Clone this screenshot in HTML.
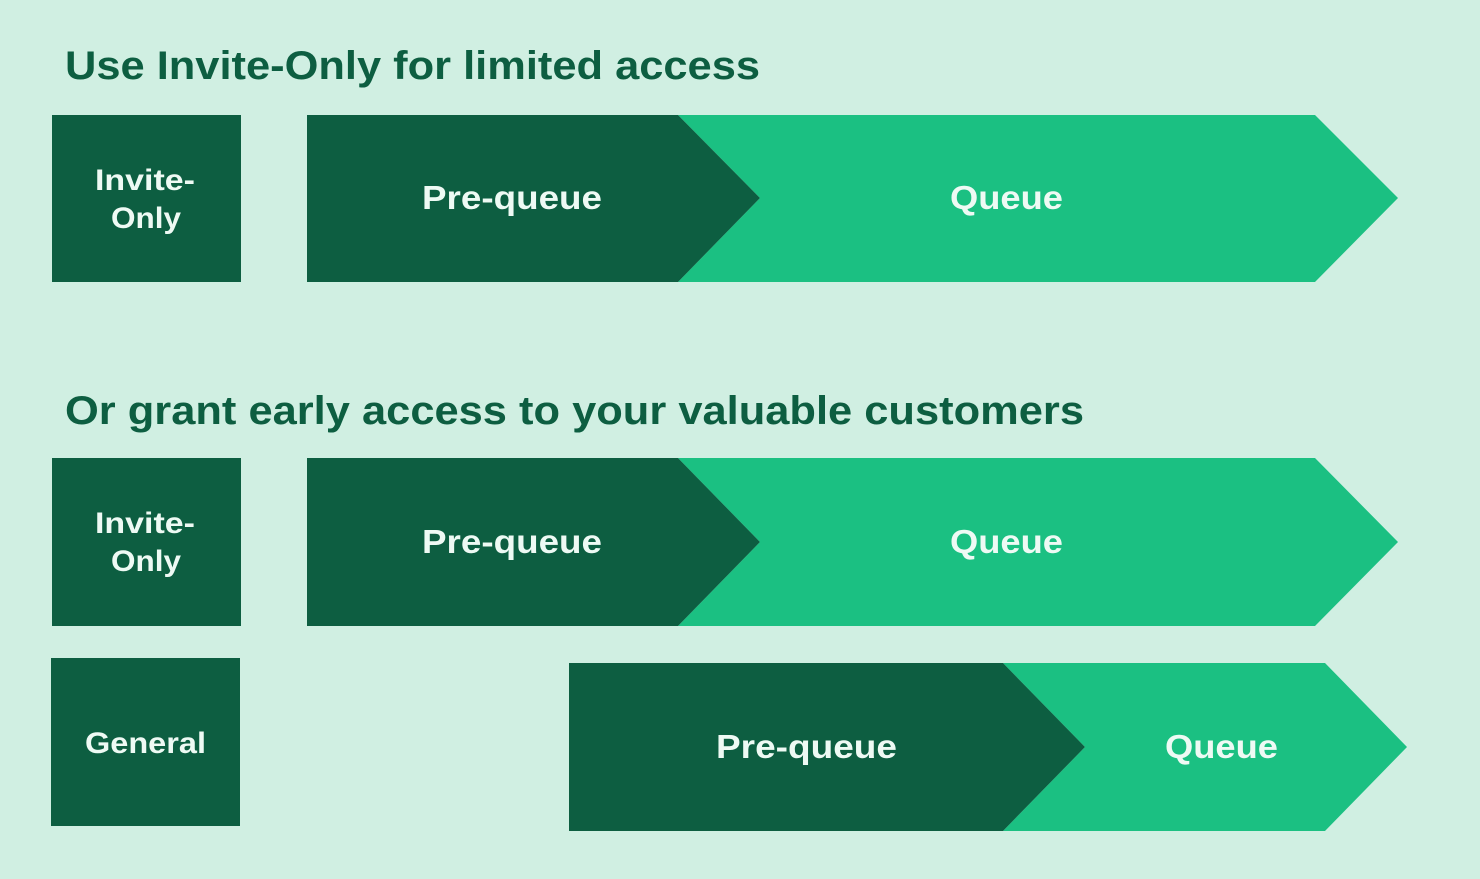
<!DOCTYPE html>
<html><head><meta charset="utf-8"><style>
html,body{margin:0;padding:0;background:#d0efe2;}
svg{display:block;}
text{font-family:"Liberation Sans",sans-serif;font-weight:bold;}
</style></head><body>
<svg width="1480" height="879" viewBox="0 0 1480 879" xmlns="http://www.w3.org/2000/svg">
<rect width="1480" height="879" fill="#d0efe2"/>
<g fill="#0d5e41">
<text x="65" y="79" font-size="40" textLength="695" lengthAdjust="spacingAndGlyphs">Use Invite-Only for limited access</text>
<text x="65" y="424" font-size="40" textLength="1019" lengthAdjust="spacingAndGlyphs">Or grant early access to your valuable customers</text>
</g>
<rect x="52" y="115" width="189" height="167" fill="#0d5e41"/>
<polygon points="678,115 1315,115 1398,198 1315,282 678,282 760,198" fill="#1bc082"/>
<polygon points="307,115 678,115 760,198 678,282 307,282" fill="#0d5e41"/>
<rect x="52" y="458" width="189" height="168" fill="#0d5e41"/>
<polygon points="678,458 1315,458 1398,542 1315,626 678,626 760,542" fill="#1bc082"/>
<polygon points="307,458 678,458 760,542 678,626 307,626" fill="#0d5e41"/>
<rect x="51" y="658" width="189" height="168" fill="#0d5e41"/>
<polygon points="1003,663 1325,663 1407,747 1325,831 1003,831 1085,747" fill="#1bc082"/>
<polygon points="569,663 1003,663 1085,747 1003,831 569,831" fill="#0d5e41"/>
<g fill="#eefaf4">
<text x="95" y="190" font-size="30" textLength="100" lengthAdjust="spacingAndGlyphs">Invite-</text>
<text x="111" y="228" font-size="30" textLength="70" lengthAdjust="spacingAndGlyphs">Only</text>
<text x="422" y="209" font-size="33" textLength="180" lengthAdjust="spacingAndGlyphs">Pre-queue</text>
<text x="950" y="209" font-size="33" textLength="113" lengthAdjust="spacingAndGlyphs">Queue</text>
<text x="95" y="533" font-size="30" textLength="100" lengthAdjust="spacingAndGlyphs">Invite-</text>
<text x="111" y="571" font-size="30" textLength="70" lengthAdjust="spacingAndGlyphs">Only</text>
<text x="422" y="553" font-size="33" textLength="180" lengthAdjust="spacingAndGlyphs">Pre-queue</text>
<text x="950" y="553" font-size="33" textLength="113" lengthAdjust="spacingAndGlyphs">Queue</text>
<text x="85" y="753" font-size="30" textLength="121" lengthAdjust="spacingAndGlyphs">General</text>
<text x="716" y="758" font-size="33" textLength="181" lengthAdjust="spacingAndGlyphs">Pre-queue</text>
<text x="1165" y="758" font-size="33" textLength="113" lengthAdjust="spacingAndGlyphs">Queue</text>
</g>
</svg>
</body></html>
